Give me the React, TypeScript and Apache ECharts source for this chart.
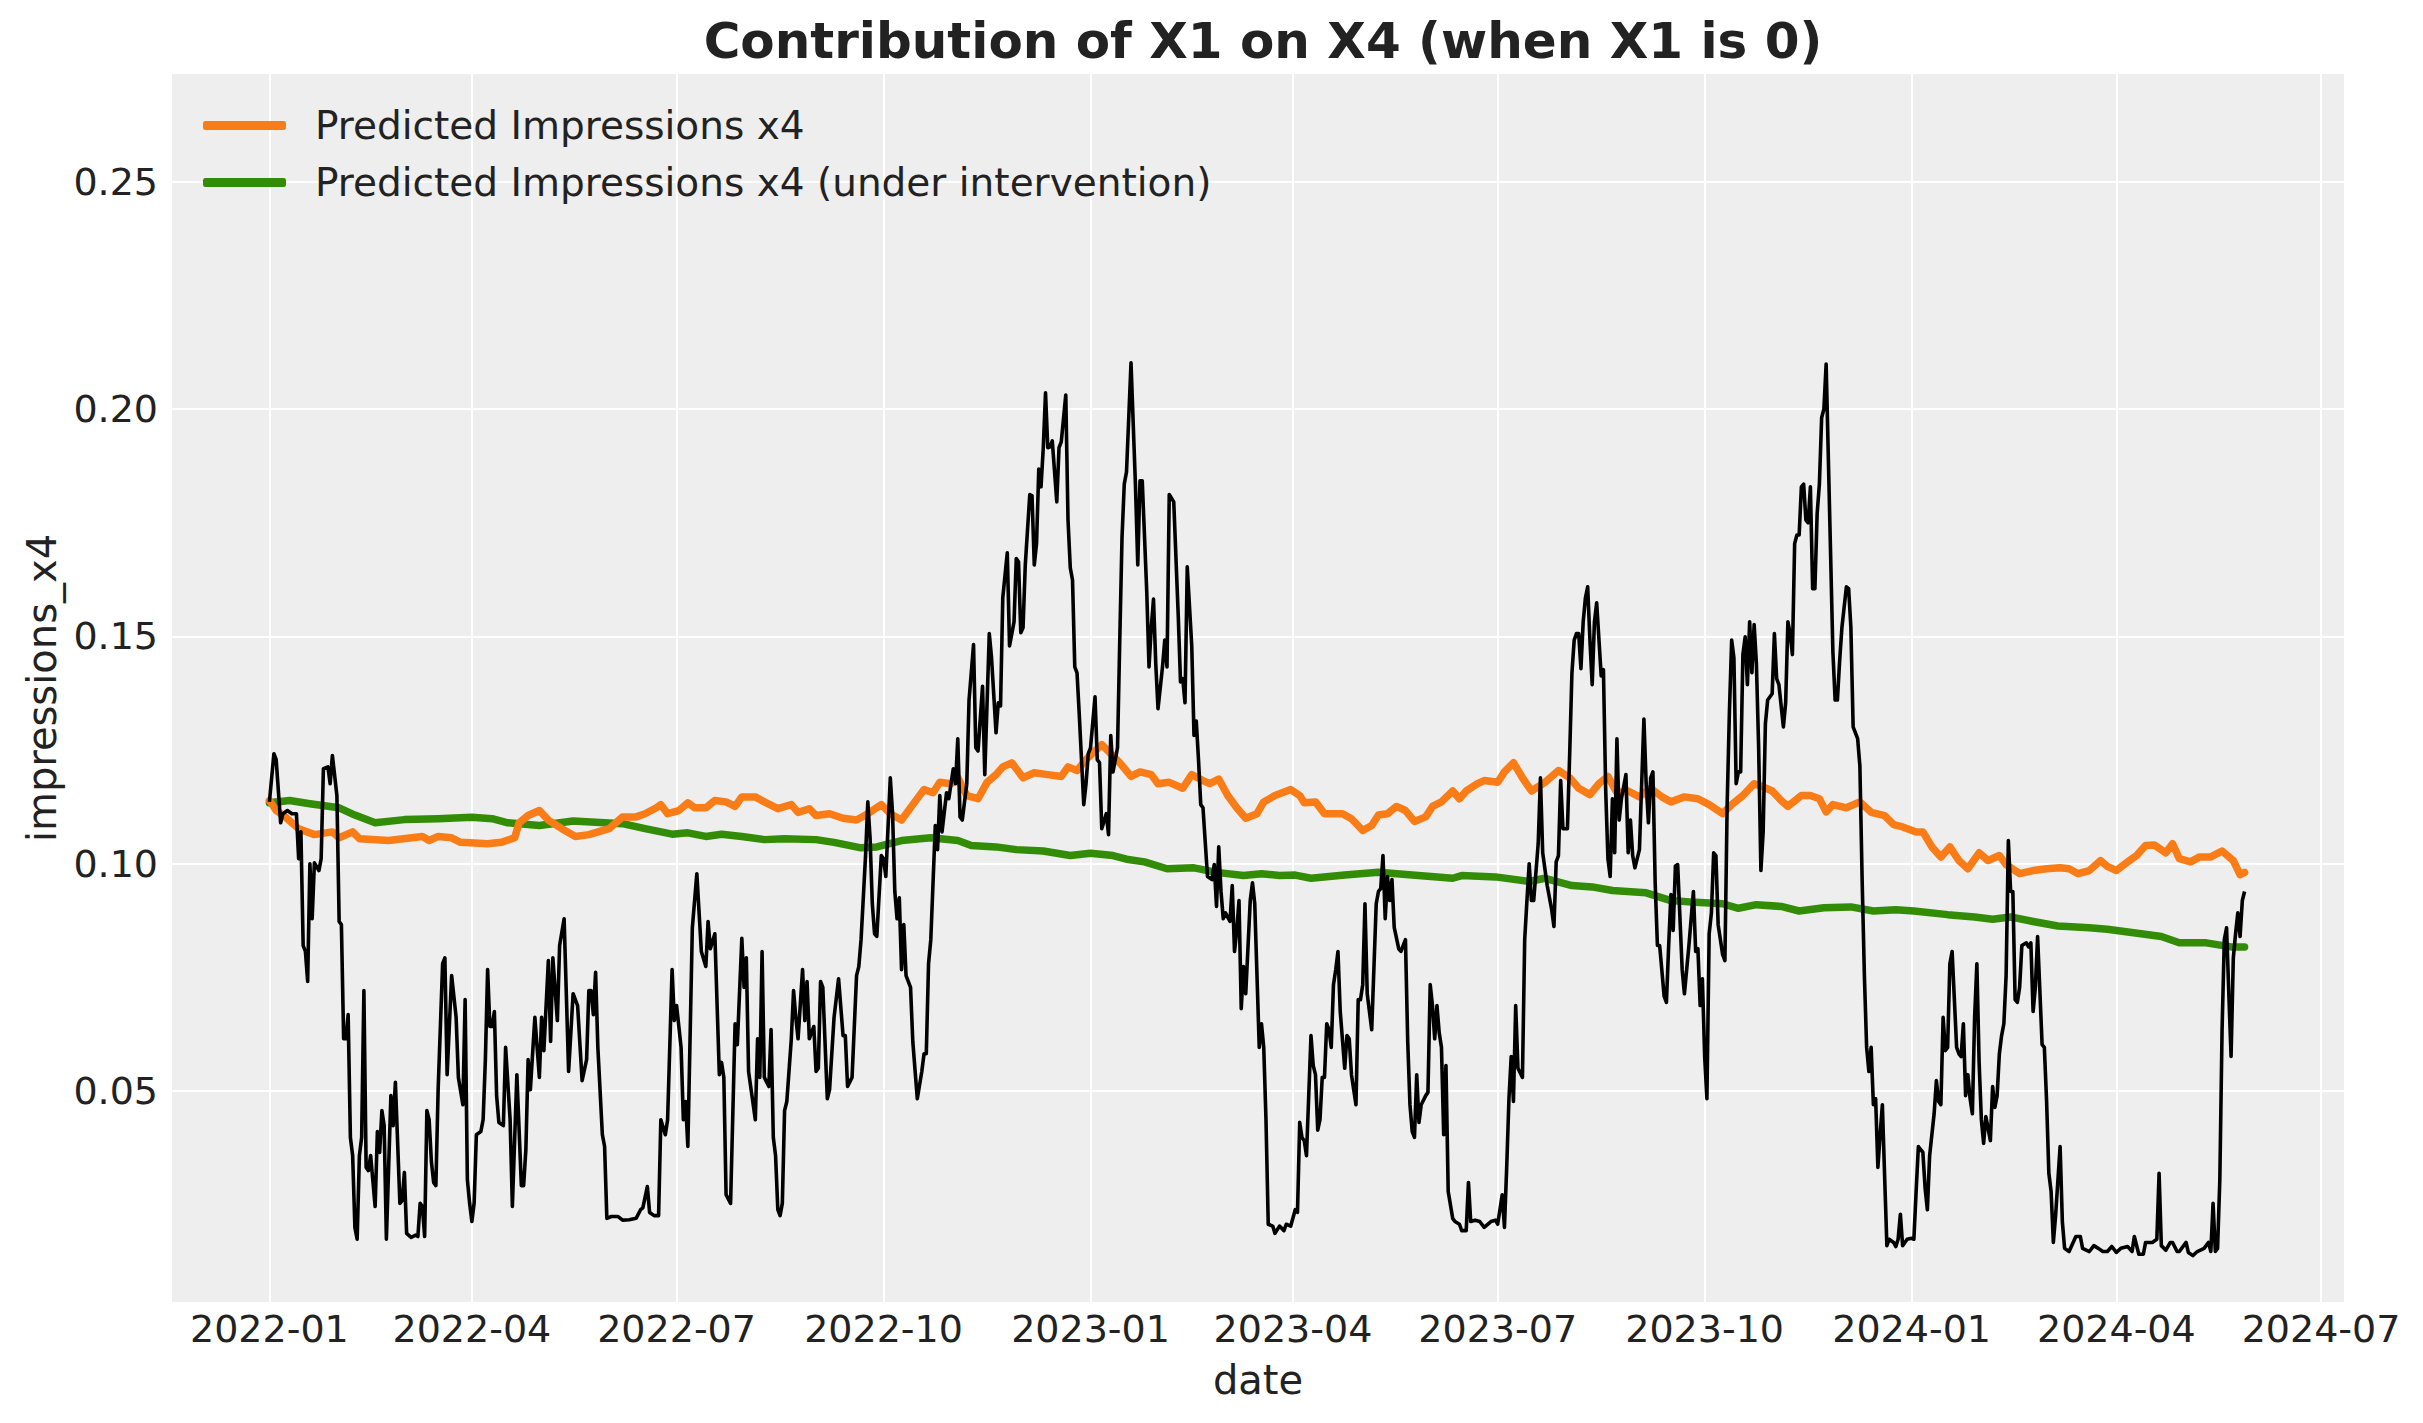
import React, { useEffect, useRef } from "react";
import * as echarts from "echarts";

const START = Date.UTC(2022, 0, 1);
const DAY = 86400000;
const FONT = "DejaVu Sans";

const titleText = "Contribution of X1 on X4 (when X1 is 0)";
const xAxisName = "date";
const yAxisName = "impressions_x4";
const legendNames = ["Predicted Impressions x4", "Predicted Impressions x4 (under intervention)"];

const xTickDates = [
  "2022-01-01", "2022-04-01", "2022-07-01", "2022-10-01", "2023-01-01", "2023-04-01",
  "2023-07-01", "2023-10-01", "2024-01-01", "2024-04-01", "2024-07-01",
];
const yTickValues = [0.05, 0.1, 0.15, 0.2, 0.25];

// [days since 2022-01-01, value]
const observed: [number, number][] = [
  [0, .1136], [2, .1242], [3, .1229], [5, .1090], [6, .1110], [8, .1117], [10, .1110], [12, .1110], [13, .1011], [14, .1070],
  [15, .0820], [16, .0807], [17, .0741], [18, .1000], [19, .0879], [20, .1002], [22, .0985], [23, .1011], [24, .1209], [26, .1213],
  [27, .1176], [28, .1238], [30, .1150], [31, .0873], [32, .0866], [33, .0615], [34, .0615], [35, .0668], [36, .0398], [37, .0358],
  [38, .0200], [39, .0174], [40, .0358], [41, .0398], [42, .0721], [43, .0332], [44, .0325], [45, .0358], [47, .0246], [48, .0411],
  [49, .0365], [50, .0457], [51, .0424], [52, .0174], [54, .0490], [55, .0424], [56, .0519], [58, .0253], [59, .0259], [60, .0321],
  [61, .0187], [63, .0178], [65, .0183], [66, .0180], [67, .0253], [68, .0246], [69, .0180], [70, .0457], [71, .0437], [72, .0345],
  [73, .0299], [74, .0292], [75, .0503], [77, .0780], [78, .0793], [79, .0536], [81, .0754], [83, .0662], [84, .0530], [86, .0470],
  [87, .0701], [88, .0305], [89, .0253], [90, .0213], [91, .0253], [92, .0404], [94, .0411], [95, .0437], [96, .0569], [97, .0767],
  [98, .0642], [99, .0642], [100, .0675], [101, .0490], [102, .0431], [104, .0424], [105, .0596], [107, .0437], [108, .0246], [110, .0536],
  [112, .0292], [113, .0292], [114, .0371], [115, .0569], [116, .0503], [118, .0662], [119, .0596], [120, .0530], [121, .0662], [122, .0589],
  [124, .0787], [125, .0609], [126, .0793], [128, .0655], [129, .0820], [131, .0879], [133, .0543], [135, .0714], [137, .0688], [139, .0523],
  [141, .0569], [142, .0721], [143, .0721], [144, .0668], [145, .0761], [146, .0596], [148, .0404], [149, .0378], [150, .0220], [152, .0224],
  [155, .0224], [157, .0216], [160, .0217], [163, .0220], [165, .0239], [166, .0243], [168, .0290], [169, .0233], [171, .0226], [173, .0226],
  [174, .0437], [176, .0404], [177, .0437], [179, .0767], [180, .0655], [181, .0688], [183, .0596], [184, .0437], [185, .0477], [186, .0378],
  [188, .0859], [190, .0978], [192, .0807], [194, .0774], [195, .0873], [196, .0813], [198, .0846], [200, .0536], [201, .0563], [202, .0530],
  [203, .0272], [205, .0253], [207, .0648], [208, .0602], [210, .0836], [211, .0728], [212, .0793], [213, .0543], [216, .0437], [217, .0615],
  [218, .0530], [219, .0807], [220, .0530], [222, .0510], [223, .0635], [224, .0398], [225, .0358], [226, .0239], [227, .0226], [228, .0253],
  [229, .0457], [230, .0477], [232, .0615], [233, .0721], [234, .0662], [235, .0615], [237, .0767], [238, .0655], [239, .0741], [240, .0615],
  [242, .0642], [243, .0543], [244, .0550], [245, .0741], [246, .0728], [248, .0483], [249, .0503], [251, .0662], [253, .0747], [255, .0622],
  [256, .0622], [257, .0510], [259, .0530], [261, .0754], [262, .0774], [263, .0833], [265, .1018], [266, .1136], [267, .1057], [268, .0912],
  [269, .0846], [270, .0840], [272, .1018], [273, .1011], [274, .0972], [276, .1189], [277, .1110], [278, .0939], [279, .0879], [280, .0925],
  [281, .0767], [282, .0866], [283, .0754], [285, .0728], [286, .0609], [288, .0483], [290, .0543], [291, .0582], [292, .0582], [293, .0780],
  [294, .0833], [296, .1084], [297, .1031], [298, .1150], [299, .1070], [301, .1156], [302, .1143], [304, .1209], [305, .1176], [306, .1275],
  [307, .1103], [308, .1096], [310, .1176], [311, .1360], [313, .1482], [314, .1255], [315, .1248], [317, .1390], [318, .1196], [320, .1506],
  [321, .1453], [323, .1288], [324, .1354], [325, .1347], [326, .1585], [328, .1684], [329, .1479], [331, .1532], [332, .1671], [333, .1664],
  [334, .1508], [335, .1519], [336, .1657], [338, .1812], [339, .1809], [340, .1657], [341, .1704], [342, .1868], [343, .1829], [344, .1915],
  [345, .2036], [346, .1915], [347, .1917], [348, .1930], [350, .1796], [351, .1915], [352, .1928], [354, .2031], [355, .1756], [356, .1651],
  [357, .1624], [358, .1433], [359, .1420], [360, .1328], [362, .1130], [363, .1176], [364, .1242], [365, .1255], [367, .1367], [368, .1229],
  [369, .1222], [370, .1077], [372, .1110], [373, .1064], [374, .1282], [375, .1202], [377, .1255], [378, .1492], [379, .1717], [380, .1835],
  [381, .1862], [383, .2102], [385, .1829], [386, .1657], [387, .1842], [388, .1842], [390, .1598], [391, .1433], [392, .1519], [393, .1582],
  [394, .1440], [395, .1341], [397, .1433], [398, .1492], [399, .1433], [400, .1812], [402, .1796], [404, .1545], [405, .1400], [406, .1407],
  [407, .1354], [408, .1653], [410, .1479], [411, .1282], [412, .1314], [413, .1229], [414, .1130], [415, .1123], [417, .0972], [419, .0965],
  [420, .0998], [421, .0906], [422, .1037], [423, .0939], [424, .0879], [425, .0892], [427, .0873], [428, .0952], [429, .0807], [430, .0853],
  [431, .0919], [432, .0681], [433, .0774], [434, .0714], [436, .0919], [437, .0958], [438, .0912], [440, .0596], [441, .0648], [442, .0596],
  [443, .0437], [444, .0207], [446, .0203], [447, .0187], [449, .0203], [451, .0193], [452, .0207], [454, .0203], [456, .0239], [457, .0233],
  [458, .0431], [459, .0398], [460, .0391], [461, .0358], [463, .0622], [464, .0556], [465, .0536], [466, .0414], [467, .0437], [468, .0530],
  [469, .0530], [470, .0648], [471, .0635], [472, .0596], [473, .0734], [474, .0767], [475, .0807], [476, .0675], [478, .0550], [479, .0622],
  [480, .0615], [481, .0536], [483, .0470], [484, .0701], [485, .0701], [486, .0734], [487, .0912], [488, .0714], [490, .0635], [492, .0912],
  [493, .0939], [494, .0945], [495, .1018], [496, .0879], [497, .0972], [498, .0919], [499, .0965], [500, .0860], [502, .0813], [503, .0807],
  [505, .0833], [506, .0609], [507, .0470], [508, .0411], [509, .0398], [510, .0536], [511, .0431], [512, .0470], [514, .0490], [515, .0497],
  [516, .0734], [517, .0688], [518, .0615], [519, .0688], [520, .0628], [521, .0596], [522, .0404], [523, .0556], [524, .0279], [526, .0220],
  [527, .0213], [529, .0207], [530, .0193], [532, .0193], [533, .0299], [534, .0213], [536, .0216], [538, .0213], [540, .0200], [543, .0213],
  [545, .0216], [546, .0207], [548, .0272], [549, .0200], [550, .0332], [551, .0483], [552, .0576], [553, .0477], [554, .0688], [555, .0550],
  [557, .0530], [558, .0833], [559, .0919], [560, .1000], [561, .0919], [562, .0919], [564, .1044], [565, .1189], [566, .1024], [568, .0952],
  [570, .0899], [571, .0862], [572, .1004], [573, .1018], [574, .1183], [575, .1077], [577, .1077], [578, .1242], [579, .1420], [580, .1492],
  [581, .1506], [582, .1506], [583, .1429], [584, .1532], [585, .1585], [586, .1609], [587, .1492], [588, .1394], [589, .1532], [590, .1574],
  [592, .1413], [593, .1427], [594, .1163], [595, .1011], [596, .0972], [597, .1143], [598, .1024], [599, .1275], [600, .1096], [601, .1143],
  [603, .1196], [604, .1024], [605, .1096], [606, .1018], [607, .0991], [609, .1031], [610, .1176], [611, .1318], [612, .1176], [613, .1090],
  [614, .1189], [615, .1202], [616, .0958], [617, .0820], [618, .0820], [620, .0708], [621, .0695], [622, .0820], [623, .0932], [624, .0853],
  [625, .0995], [626, .0998], [628, .0767], [629, .0714], [631, .0820], [633, .0939], [634, .0807], [635, .0813], [636, .0688], [637, .0747],
  [638, .0576], [639, .0483], [640, .0846], [641, .0892], [642, .1024], [643, .1018], [644, .0866], [646, .0800], [647, .0787], [648, .1130],
  [649, .1334], [650, .1492], [651, .1453], [652, .1176], [653, .1202], [654, .1202], [655, .1460], [656, .1499], [657, .1394], [658, .1532],
  [659, .1420], [660, .1526], [661, .1440], [662, .1255], [663, .0985], [664, .1070], [665, .1308], [666, .1360], [668, .1374], [669, .1506],
  [670, .1407], [671, .1394], [673, .1301], [674, .1354], [675, .1532], [676, .1506], [677, .1460], [678, .1704], [679, .1723], [680, .1723],
  [681, .1829], [682, .1835], [683, .1756], [684, .1750], [685, .1829], [686, .1605], [687, .1605], [688, .1770], [689, .1835], [690, .1981],
  [691, .2000], [692, .2099], [693, .1888], [694, .1677], [695, .1466], [696, .1360], [697, .1360], [698, .1446], [699, .1519], [701, .1609],
  [702, .1605], [703, .1519], [704, .1301], [706, .1275], [707, .1215], [708, .0965], [709, .0754], [710, .0596], [711, .0543], [712, .0596],
  [713, .0470], [714, .0483], [715, .0332], [716, .0404], [717, .0470], [718, .0312], [719, .0160], [720, .0174], [722, .0167], [723, .0158],
  [724, .0174], [725, .0229], [726, .0160], [728, .0174], [730, .0176], [731, .0174], [732, .0279], [733, .0378], [735, .0365], [736, .0286],
  [737, .0239], [738, .0358], [740, .0450], [741, .0523], [742, .0477], [743, .0470], [744, .0662], [745, .0589], [746, .0596], [747, .0780],
  [748, .0807], [750, .0596], [751, .0582], [752, .0576], [753, .0648], [754, .0490], [755, .0536], [756, .0483], [757, .0450], [758, .0662],
  [759, .0780], [760, .0563], [761, .0437], [762, .0385], [763, .0444], [765, .0391], [766, .0510], [767, .0464], [768, .0490], [769, .0582],
  [770, .0622], [771, .0648], [772, .0754], [773, .1051], [774, .0939], [775, .0939], [776, .0701], [777, .0695], [778, .0728], [779, .0820],
  [781, .0826], [782, .0817], [783, .0826], [784, .0675], [785, .0728], [786, .0840], [788, .0602], [789, .0596], [790, .0477], [791, .0319],
  [792, .0279], [793, .0167], [794, .0226], [796, .0378], [797, .0213], [798, .0154], [800, .0147], [803, .0180], [805, .0180], [806, .0154],
  [809, .0147], [811, .0160], [813, .0154], [815, .0147], [817, .0147], [819, .0158], [821, .0145], [823, .0154], [826, .0158], [828, .0147],
  [829, .0180], [831, .0141], [833, .0141], [834, .0167], [837, .0167], [839, .0174], [840, .0319], [841, .0160], [843, .0150], [845, .0167],
  [846, .0167], [848, .0147], [849, .0147], [852, .0167], [853, .0145], [855, .0138], [857, .0147], [860, .0154], [862, .0167], [863, .0147],
  [864, .0253], [865, .0147], [866, .0154], [867, .0305], [868, .0635], [869, .0833], [870, .0859], [871, .0714], [872, .0576], [873, .0793],
  [874, .0846], [875, .0892], [876, .0840], [877, .0919], [878, .0939],
];

const predicted: [number, number][] = [
  [0, .1139], [3, .1117], [7, .1103], [13, .1077], [20, .1064], [28, .1070], [31, .1057], [37, .1070], [40, .1055], [53, .1051],
  [68, .1060], [71, .1051], [75, .1060], [81, .1057], [85, .1047], [97, .1044], [103, .1047], [109, .1057], [111, .1090], [115, .1106],
  [120, .1117], [124, .1096], [130, .1077], [136, .1060], [142, .1064], [151, .1077], [157, .1103], [163, .1103], [167, .1110], [172, .1123],
  [174, .1130], [177, .1110], [182, .1117], [186, .1134], [189, .1123], [194, .1123], [198, .1139], [203, .1136], [207, .1126], [210, .1147],
  [216, .1147], [220, .1136], [226, .1121], [232, .1130], [235, .1113], [240, .1121], [243, .1106], [249, .1110], [255, .1100], [261, .1096],
  [266, .1110], [272, .1130], [276, .1110], [281, .1096], [286, .1130], [291, .1163], [295, .1156], [298, .1179], [303, .1176], [306, .1189],
  [310, .1150], [315, .1143], [319, .1179], [323, .1196], [326, .1213], [330, .1222], [335, .1189], [340, .1200], [346, .1196], [352, .1192],
  [355, .1213], [359, .1205], [363, .1229], [367, .1248], [370, .1262], [374, .1242], [378, .1222], [383, .1192], [387, .1202], [392, .1196],
  [395, .1176], [400, .1179], [406, .1166], [410, .1196], [415, .1183], [418, .1176], [422, .1186], [426, .1150], [430, .1123], [434, .1100],
  [439, .1110], [442, .1136], [447, .1150], [454, .1163], [458, .1150], [460, .1134], [465, .1136], [469, .1110], [477, .1110], [481, .1099],
  [486, .1073], [490, .1084], [493, .1107], [497, .1110], [501, .1126], [505, .1117], [509, .1093], [514, .1103], [517, .1126], [521, .1136],
  [526, .1160], [529, .1143], [532, .1160], [537, .1176], [540, .1183], [546, .1179], [549, .1202], [553, .1222], [557, .1189], [561, .1160],
  [567, .1179], [573, .1205], [578, .1189], [582, .1166], [587, .1152], [591, .1176], [595, .1192], [599, .1156], [604, .1160], [609, .1147],
  [614, .1166], [619, .1147], [623, .1136], [629, .1147], [635, .1143], [640, .1130], [646, .1110], [650, .1130], [655, .1150], [660, .1176],
  [664, .1169], [668, .1160], [672, .1139], [675, .1126], [681, .1150], [685, .1150], [689, .1143], [692, .1114], [695, .1130], [701, .1123],
  [707, .1136], [712, .1113], [718, .1106], [722, .1086], [726, .1081], [732, .1070], [735, .1070], [739, .1037], [743, .1015], [747, .1037],
  [751, .1007], [755, .0989], [760, .1024], [764, .1007], [769, .1018], [772, .0998], [778, .0978], [784, .0985], [790, .0989], [796, .0991],
  [800, .0989], [804, .0978], [809, .0985], [814, .1007], [817, .0994], [821, .0985], [826, .1004], [830, .1018], [834, .1040], [838, .1041],
  [843, .1024], [846, .1044], [849, .1011], [854, .1004], [858, .1015], [863, .1015], [868, .1028], [873, .1007], [876, .0976], [878, .0981],
];

const intervention: [number, number][] = [
  [0, .1134], [9, .1139], [18, .1132], [31, .1123], [38, .1107], [47, .1090], [60, .1097], [75, .1099], [90, .1102], [99, .1099],
  [106, .1090], [120, .1084], [135, .1094], [149, .1090], [157, .1088], [167, .1077], [179, .1065], [186, .1068], [194, .1060], [201, .1065],
  [210, .1060], [220, .1053], [229, .1055], [243, .1053], [251, .1047], [263, .1035], [270, .1037], [281, .1051], [294, .1057], [306, .1051],
  [312, .1040], [323, .1037], [332, .1031], [344, .1028], [356, .1018], [365, .1023], [375, .1018], [381, .1010], [389, .1004], [399, .0989],
  [411, .0991], [421, .0981], [433, .0974], [441, .0978], [449, .0974], [456, .0975], [463, .0968], [478, .0975], [493, .0981], [508, .0975],
  [526, .0968], [530, .0974], [545, .0971], [560, .0961], [567, .0968], [579, .0952], [588, .0949], [597, .0941], [612, .0936], [623, .0919],
  [634, .0915], [646, .0912], [653, .0902], [661, .0910], [672, .0906], [680, .0896], [691, .0903], [703, .0905], [713, .0896], [723, .0899],
  [731, .0896], [746, .0888], [758, .0883], [766, .0878], [774, .0883], [784, .0873], [795, .0863], [809, .0859], [817, .0856], [832, .0846],
  [841, .0840], [849, .0826], [861, .0826], [872, .0817], [878, .0817],
];

const toTime = (pts: [number, number][]) => pts.map(([d, v]) => [START + d * DAY, v]);

export default function App() {
  const ref = useRef<HTMLDivElement>(null);
  useEffect(() => {
    if (!ref.current) return;
    const chart = echarts.init(ref.current, undefined, { renderer: "svg" });
    const xTicks = xTickDates.map((s) => new Date(s + "T00:00:00Z").getTime());
    const axisText = { fontFamily: FONT, fontSize: 38, color: "#222222" };
    chart.setOption({
      animation: false,
      backgroundColor: "#ffffff",
      title: {
        text: titleText,
        left: 1258,
        top: 11,
        textAlign: "center",
        textStyle: { fontFamily: FONT, fontSize: 50, fontWeight: "bold", color: "#222222" },
      },
      legend: {
        data: legendNames,
        orient: "vertical",
        left: 203,
        top: 106,
        itemWidth: 83,
        itemHeight: 9,
        itemGap: 18,
        icon: "roundRect",
        padding: 0,
        textStyle: { fontFamily: FONT, fontSize: 39, color: "#222222", padding: [0, 0, 0, 24] },
      },
      grid: {
        left: 172,
        right: 79,
        top: 74,
        bottom: 121,
        show: true,
        backgroundColor: "#eeeeee",
        borderWidth: 0,
      },
      xAxis: {
        type: "value",
        min: START - 43.3 * DAY,
        max: START + 922.2 * DAY,
        name: xAxisName,
        nameLocation: "middle",
        nameGap: 58,
        nameTextStyle: { fontFamily: FONT, fontSize: 40, color: "#222222" },
        axisLine: { show: false },
        axisTick: { show: false, customValues: xTicks },
        axisLabel: {
          ...axisText,
          margin: 8,
          customValues: xTicks,
          formatter: (val: number) => {
            const d = new Date(val);
            return d.getUTCFullYear() + "-" + String(d.getUTCMonth() + 1).padStart(2, "0");
          },
        },
        splitLine: { show: true, lineStyle: { color: "#ffffff", width: 2 } },
      },
      yAxis: {
        type: "value",
        min: 0.0036,
        max: 0.2737,
        name: yAxisName,
        nameLocation: "middle",
        nameGap: 104,
        nameTextStyle: { fontFamily: FONT, fontSize: 40, color: "#222222" },
        axisLine: { show: false },
        axisTick: { show: false, customValues: yTickValues },
        axisLabel: {
          ...axisText,
          margin: 14,
          customValues: yTickValues,
          formatter: (v: number) => v.toFixed(2),
        },
        splitLine: { show: true, lineStyle: { color: "#ffffff", width: 2 } },
      },
      series: [
        {
          name: legendNames[1],
          type: "line",
          data: toTime(intervention),
          showSymbol: false,
          z: 2,
          itemStyle: { color: "#328c06" },
          lineStyle: { color: "#328c06", width: 7.5, cap: "round", join: "round" },
        },
        {
          name: legendNames[0],
          type: "line",
          data: toTime(predicted),
          showSymbol: false,
          z: 3,
          itemStyle: { color: "#fa7c17" },
          lineStyle: { color: "#fa7c17", width: 7.5, cap: "round", join: "round" },
        },
        {
          name: "impressions_x4",
          type: "line",
          data: toTime(observed),
          showSymbol: false,
          z: 4,
          itemStyle: { color: "#000000" },
          lineStyle: { color: "#000000", width: 3.6, join: "round" },
        },
      ],
    });
    return () => chart.dispose();
  }, []);
  return (
    <div
      ref={ref}
      style={{ position: "absolute", left: 0, top: 0, width: 2423, height: 1423 }}
    />
  );
}
